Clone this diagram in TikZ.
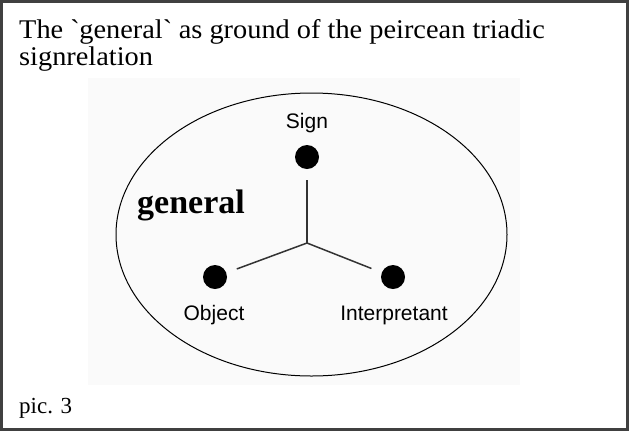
\documentclass[tikz,border=0pt]{standalone}
\usepackage{fontspec}
\setmainfont{Liberation Serif}
\newfontfamily\labelfont{Liberation Sans}
\newfontfamily\titlefont[FakeStretch=1.05]{Liberation Serif}
\usetikzlibrary{shapes.geometric}
\tikzset{vertex/.style={
    circle,
    fill=black,
    inner sep=0pt,
    minimum size=24pt
  },
  rolelabel/.style={font=\labelfont\fontsize{21}{24}\selectfont,anchor=base,inner sep=0pt},
  leg/.style={line width=1.5pt,draw=black!80,shorten <=11pt,shorten >=11pt},
  captext/.style={font=\fontsize{23}{27}\selectfont,anchor=base west,inner sep=0pt},
  titletext/.style={captext,font=\titlefont\fontsize{27}{28}\selectfont},
}

\begin{document}
\begin{tikzpicture}[x=1pt,y=-1pt]
  \useasboundingbox (0,0) rectangle (631,432);
  \fill[white] (0,0) rectangle (631,432);
  \fill[black!2] (88,78) rectangle (520,385);
  \draw[line width=3pt,draw=black!75] (1.5,1.5) rectangle (627.5,429.5);
  \node[titletext] (title) at (19,38) {The \textasciigrave general\textasciigrave{} as ground of the peircean triadic};
  \node[titletext] (title2) at (19,65) {signrelation};
  \node[captext] (caption) at (19,413) {pic. 3};
  \node[draw,ellipse,line width=1pt,minimum width=391pt,minimum height=283pt,inner sep=0pt] (ground) at (311.5,234.5) {};
  \node[font=\bfseries\fontsize{34}{40}\selectfont,anchor=base,inner sep=0pt] (general) at (191,213) {general};
  \node[vertex] (sign) at (307,157) {};
  \node[vertex] (object) at (215,277) {};
  \node[vertex] (interp) at (393,277) {};
  \coordinate (mid) at (307,243);
  \node[rolelabel] (signlabel) at (307,128) {Sign};
  \node[rolelabel] (objectlabel) at (214,320) {Object};
  \node[rolelabel] (interplabel) at (394,320) {Interpretant};
  \draw[leg,shorten >=0pt] (sign) -- (mid);
  \draw[leg,shorten <=0pt] (mid) -- (object);
  \draw[leg,shorten <=0pt] (mid) -- (interp);
\end{tikzpicture}
\end{document}
